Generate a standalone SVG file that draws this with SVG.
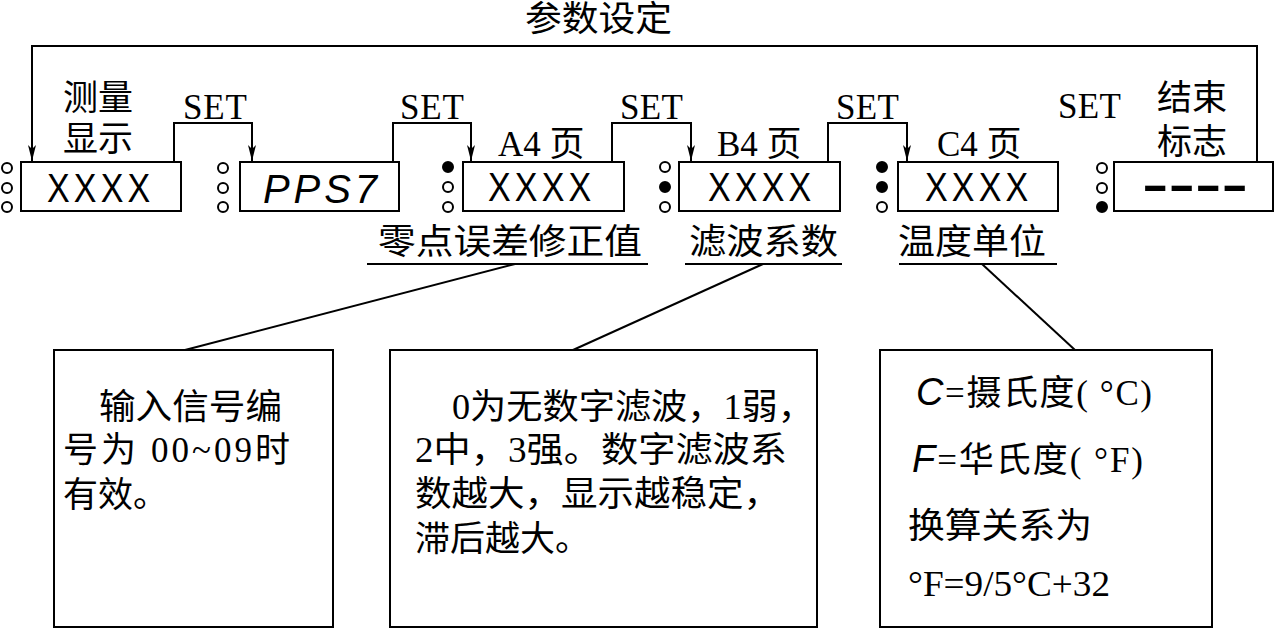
<svg xmlns="http://www.w3.org/2000/svg" width="1275" height="629" viewBox="0 0 1275 629">
<style>
.box{fill:#fff;stroke:#000;stroke-width:2}
.ln{fill:none;stroke:#000;stroke-width:2}
.led{fill:#fff;stroke:#000;stroke-width:2}
.on{fill:#000;stroke:#000;stroke-width:2}
.cj{font-family:"Liberation Serif","Noto Sans CJK SC",serif;font-size:35px;fill:#000}
.lat{font-family:"Liberation Serif","Noto Sans CJK SC",serif;font-size:35px;fill:#000}
.x{font-family:"Liberation Sans",Arial,sans-serif;font-size:41px;fill:#000}
.seg{font-family:"Liberation Sans",Arial,sans-serif;font-style:italic;fill:#000}
</style>
<defs>
<marker id="ah" viewBox="-17 -5 18 10" refX="0" refY="0" markerWidth="18" markerHeight="10" markerUnits="userSpaceOnUse" orient="auto">
<path d="M0,0 L-16,-4 L-12,0 L-16,4 Z" fill="#000"/>
</marker>
</defs>
<rect width="1275" height="629" fill="#fff"/>

<g id="connectors">
<polyline class="ln" points="1257,162 1257,46 32,46 32,161" marker-end="url(#ah)"/>
<polyline class="ln" points="174,162 174,123 252,123 252,161" marker-end="url(#ah)"/>
<polyline class="ln" points="393,162 393,123 471,123 471,161" marker-end="url(#ah)"/>
<polyline class="ln" points="612,162 612,123 691,123 691,161" marker-end="url(#ah)"/>
<polyline class="ln" points="828,162 828,123 907,123 907,161" marker-end="url(#ah)"/>
<line class="ln" x1="515" y1="264" x2="185" y2="350"/>
<line class="ln" x1="763" y1="264" x2="573" y2="350"/>
<line class="ln" x1="982" y1="264" x2="1075" y2="350"/>
<text class="lat" x="183" y="119" textLength="64">SET</text>
<text class="lat" x="400" y="119" textLength="64">SET</text>
<text class="lat" x="620" y="119" textLength="63">SET</text>
<text class="lat" x="836" y="119" textLength="63">SET</text>
<text class="lat" x="1058" y="118" textLength="63">SET</text>
<text class="cj" x="525" y="31" textLength="147" lengthAdjust="spacingAndGlyphs">参数设定</text>
</g>

<g id="display-measure">
<rect class="box" x="21" y="162" width="160" height="49"/>
<circle class="led" cx="7" cy="168" r="5"/>
<circle class="led" cx="7" cy="188" r="5"/>
<circle class="led" cx="7" cy="207" r="5"/>
<text class="x" transform="translate(47,202) scale(0.83,1)" letter-spacing="5">XXXX</text>
<text class="cj" x="63" y="110">测量</text>
<text class="cj" x="63" y="151">显示</text>
</g>

<g id="display-pps7">
<rect class="box" x="240" y="162" width="159" height="49"/>
<circle class="led" cx="223" cy="168" r="5"/>
<circle class="led" cx="223" cy="188" r="5"/>
<circle class="led" cx="223" cy="207" r="5"/>
<text class="seg" x="263" y="203" font-size="40" textLength="114" lengthAdjust="spacing">PPS7</text>
</g>

<g id="display-a4">
<rect class="box" x="463" y="162" width="161" height="49"/>
<circle class="on" cx="448" cy="167" r="5"/>
<circle class="led" cx="448" cy="187" r="5"/>
<circle class="led" cx="448" cy="207" r="5"/>
<text class="x" transform="translate(488,201) scale(0.83,1)" letter-spacing="5">XXXX</text>
<text class="cj" x="498" y="156">A4 页</text>
<text class="cj" x="378" y="254" textLength="264" lengthAdjust="spacingAndGlyphs">零点误差修正值</text>
<line class="ln" x1="367" y1="264" x2="648" y2="264"/>
</g>

<g id="display-b4">
<rect class="box" x="679" y="162" width="161" height="49"/>
<circle class="led" cx="665" cy="167" r="5"/>
<circle class="on" cx="665" cy="187" r="5"/>
<circle class="led" cx="665" cy="207" r="5"/>
<text class="x" transform="translate(708,201) scale(0.83,1)" letter-spacing="5">XXXX</text>
<text class="cj" x="717" y="156">B4 页</text>
<text class="cj" x="689" y="254" textLength="149" lengthAdjust="spacingAndGlyphs">滤波系数</text>
<line class="ln" x1="685" y1="264" x2="842" y2="264"/>
</g>

<g id="display-c4">
<rect class="box" x="898" y="162" width="160" height="49"/>
<circle class="on" cx="882" cy="167" r="5"/>
<circle class="on" cx="882" cy="187" r="5"/>
<circle class="led" cx="882" cy="207" r="5"/>
<text class="x" transform="translate(925,201) scale(0.83,1)" letter-spacing="5">XXXX</text>
<text class="cj" x="937" y="156">C4 页</text>
<text class="cj" x="898" y="254" textLength="148" lengthAdjust="spacingAndGlyphs">温度单位</text>
<line class="ln" x1="899" y1="264" x2="1057" y2="264"/>
</g>

<g id="display-end">
<rect class="box" x="1114" y="162" width="159" height="49"/>
<circle class="led" cx="1102" cy="168" r="5"/>
<circle class="led" cx="1102" cy="188" r="5"/>
<circle class="on" cx="1102" cy="207" r="5"/>
<text x="1142" y="200" font-family="Liberation Sans,Arial,sans-serif" font-weight="bold" font-size="44" textLength="106" lengthAdjust="spacingAndGlyphs">----</text>
<text class="cj" x="1157" y="110">结束</text>
<text class="cj" x="1157" y="154">标志</text>
</g>

<g id="note-a4">
<rect class="box" x="54" y="350" width="279" height="277"/>
<text class="cj" x="99" y="419" textLength="183" lengthAdjust="spacingAndGlyphs">输入信号编</text>
<text class="cj" x="63" y="462" textLength="227" lengthAdjust="spacing">号为 00~09时</text>
<text class="cj" x="63" y="507">有效。</text>
</g>

<g id="note-b4">
<rect class="box" x="390" y="350" width="427" height="277"/>
<text class="cj" x="452" y="419" textLength="362" lengthAdjust="spacingAndGlyphs">0为无数字滤波，1弱，</text>
<text class="cj" x="415" y="462" textLength="372" lengthAdjust="spacingAndGlyphs">2中，3强。数字滤波系</text>
<text class="cj" x="415" y="506" textLength="365" lengthAdjust="spacingAndGlyphs">数越大，显示越稳定，</text>
<text class="cj" x="415" y="551">滞后越大。</text>
</g>

<g id="note-c4">
<rect class="box" x="880" y="350" width="332" height="277"/>
<text class="cj" x="916" y="405" textLength="236" lengthAdjust="spacing"><tspan class="seg" font-size="38">C</tspan>=摄氏度( °C)</text>
<text class="cj" x="912" y="472" textLength="231" lengthAdjust="spacing"><tspan class="seg" font-size="38">F</tspan>=华氏度( °F)</text>
<text class="cj" x="908" y="538" textLength="184" lengthAdjust="spacingAndGlyphs">换算关系为</text>
<text class="cj" x="908" y="596" textLength="202" lengthAdjust="spacingAndGlyphs">°F=9/5°C+32</text>
</g>
</svg>
